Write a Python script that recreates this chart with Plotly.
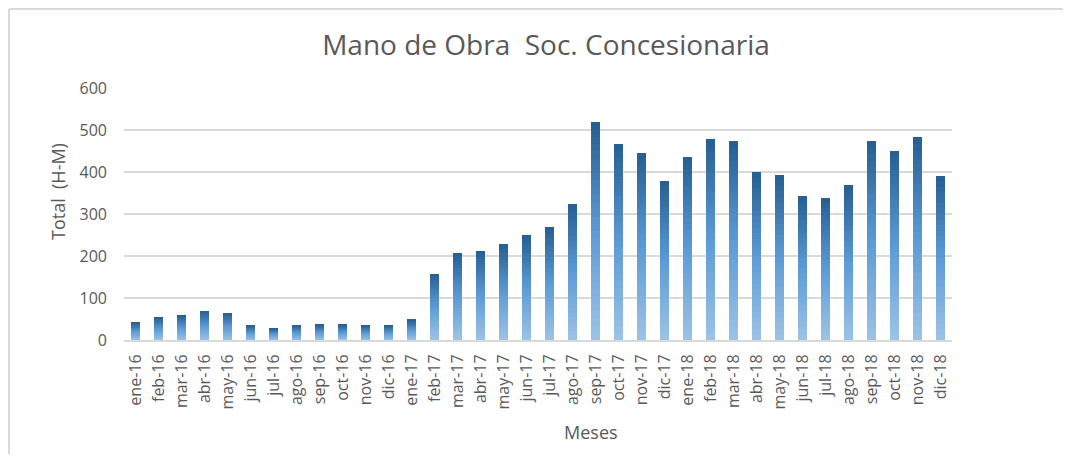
import plotly.graph_objects as go

months = ["ene-16", "feb-16", "mar-16", "abr-16", "may-16", "jun-16", "jul-16", "ago-16",
          "sep-16", "oct-16", "nov-16", "dic-16",
          "ene-17", "feb-17", "mar-17", "abr-17", "may-17", "jun-17", "jul-17", "ago-17",
          "sep-17", "oct-17", "nov-17", "dic-17",
          "ene-18", "feb-18", "mar-18", "abr-18", "may-18", "jun-18", "jul-18", "ago-18",
          "sep-18", "oct-18", "nov-18", "dic-18"]
totals = [42, 54, 59, 69, 64, 35, 28, 35, 37, 37, 35, 35,
          48, 158, 206, 213, 229, 250, 270, 323, 518, 467, 445, 379,
          436, 479, 474, 401, 394, 343, 338, 370, 474, 450, 483, 391]
y_ticks = [0, 100, 200, 300, 400, 500, 600]

# the page body has an 8px margin on every side; figure coords = page coords - 8
OFF = 8
W, H = 1071 - 2 * OFF, 462 - 2 * OFF
L, T = 124 - OFF, 88 - OFF
pw, ph = 828, 252
R, B = W - L - pw, H - T - ph
TXT = "#595959"
GRID = "#d9d9d9"
FONT = "Open Sans"

stops = [(0.0, (157, 195, 230)), (0.5, (91, 155, 213)), (1.0, (37, 94, 145))]


def color_at(t):
    for (t0, c0), (t1, c1) in zip(stops[:-1], stops[1:]):
        if t <= t1:
            f = (t - t0) / (t1 - t0)
            return "rgb(%d,%d,%d)" % tuple(round(a + (b - a) * f) for a, b in zip(c0, c1))
    return "rgb(%d,%d,%d)" % stops[-1][1]


def px_x(x):
    return (x - OFF - L) / pw


def px_y(y):
    return 1 - (y - OFF - T) / ph


N = 30
fig = go.Figure()
for i in range(N):
    fig.add_trace(go.Bar(
        x=months, y=[v / N for v in totals],
        marker=dict(color=color_at((i + 0.5) / N), line=dict(width=0)),
        hoverinfo="skip" if i < N - 1 else None,
        customdata=totals,
        hovertemplate="%{x}: %{customdata}<extra></extra>",
        showlegend=False,
    ))

fig.update_layout(
    width=W, height=H,
    margin=dict(l=L, r=R, t=T, b=B, pad=0, autoexpand=False),
    barmode="stack", bargap=0.61,
    paper_bgcolor="white", plot_bgcolor="white",
    font=dict(family=FONT, color=TXT, size=16),
    title=dict(text="Mano de Obra  Soc. Concesionaria", x=(546 - OFF) / W, xanchor="center",
               y=1 - (45 - OFF) / H, yanchor="middle", font=dict(size=28, color=TXT, family=FONT)),
    xaxis=dict(type="category", tickangle=-90, showgrid=False, showline=True, automargin=False,
               linecolor=GRID, linewidth=2, ticks="", tickfont=dict(size=16, color=TXT),
               ticklabelstandoff=6),
    yaxis=dict(range=[0, 600], tickvals=y_ticks, showgrid=True, gridcolor=GRID, gridwidth=2,
               automargin=False,
               zeroline=False, showline=False, ticks="", tickfont=dict(size=16, color=TXT),
               ticklabelstandoff=16),
    annotations=[
        dict(text="Meses", xref="paper", yref="paper", x=px_x(591), y=px_y(432),
             xanchor="center", yanchor="middle", showarrow=False,
             font=dict(size=18, color=TXT, family=FONT)),
        dict(text="Total  (H-M)", xref="paper", yref="paper", x=px_x(58),
             y=px_y(192), xanchor="center", yanchor="middle", textangle=-90,
             showarrow=False, font=dict(size=18, color=TXT, family=FONT)),
    ],
    shapes=[
        dict(type="line", xref="paper", yref="paper", x0=px_x(9), x1=px_x(1080),
             y0=px_y(9), y1=px_y(9), line=dict(color=GRID, width=2), layer="below"),
        dict(type="line", xref="paper", yref="paper", x0=px_x(9), x1=px_x(9),
             y0=px_y(9), y1=px_y(480), line=dict(color=GRID, width=2), layer="below"),
    ],
)

fig.write_html("out.html")
